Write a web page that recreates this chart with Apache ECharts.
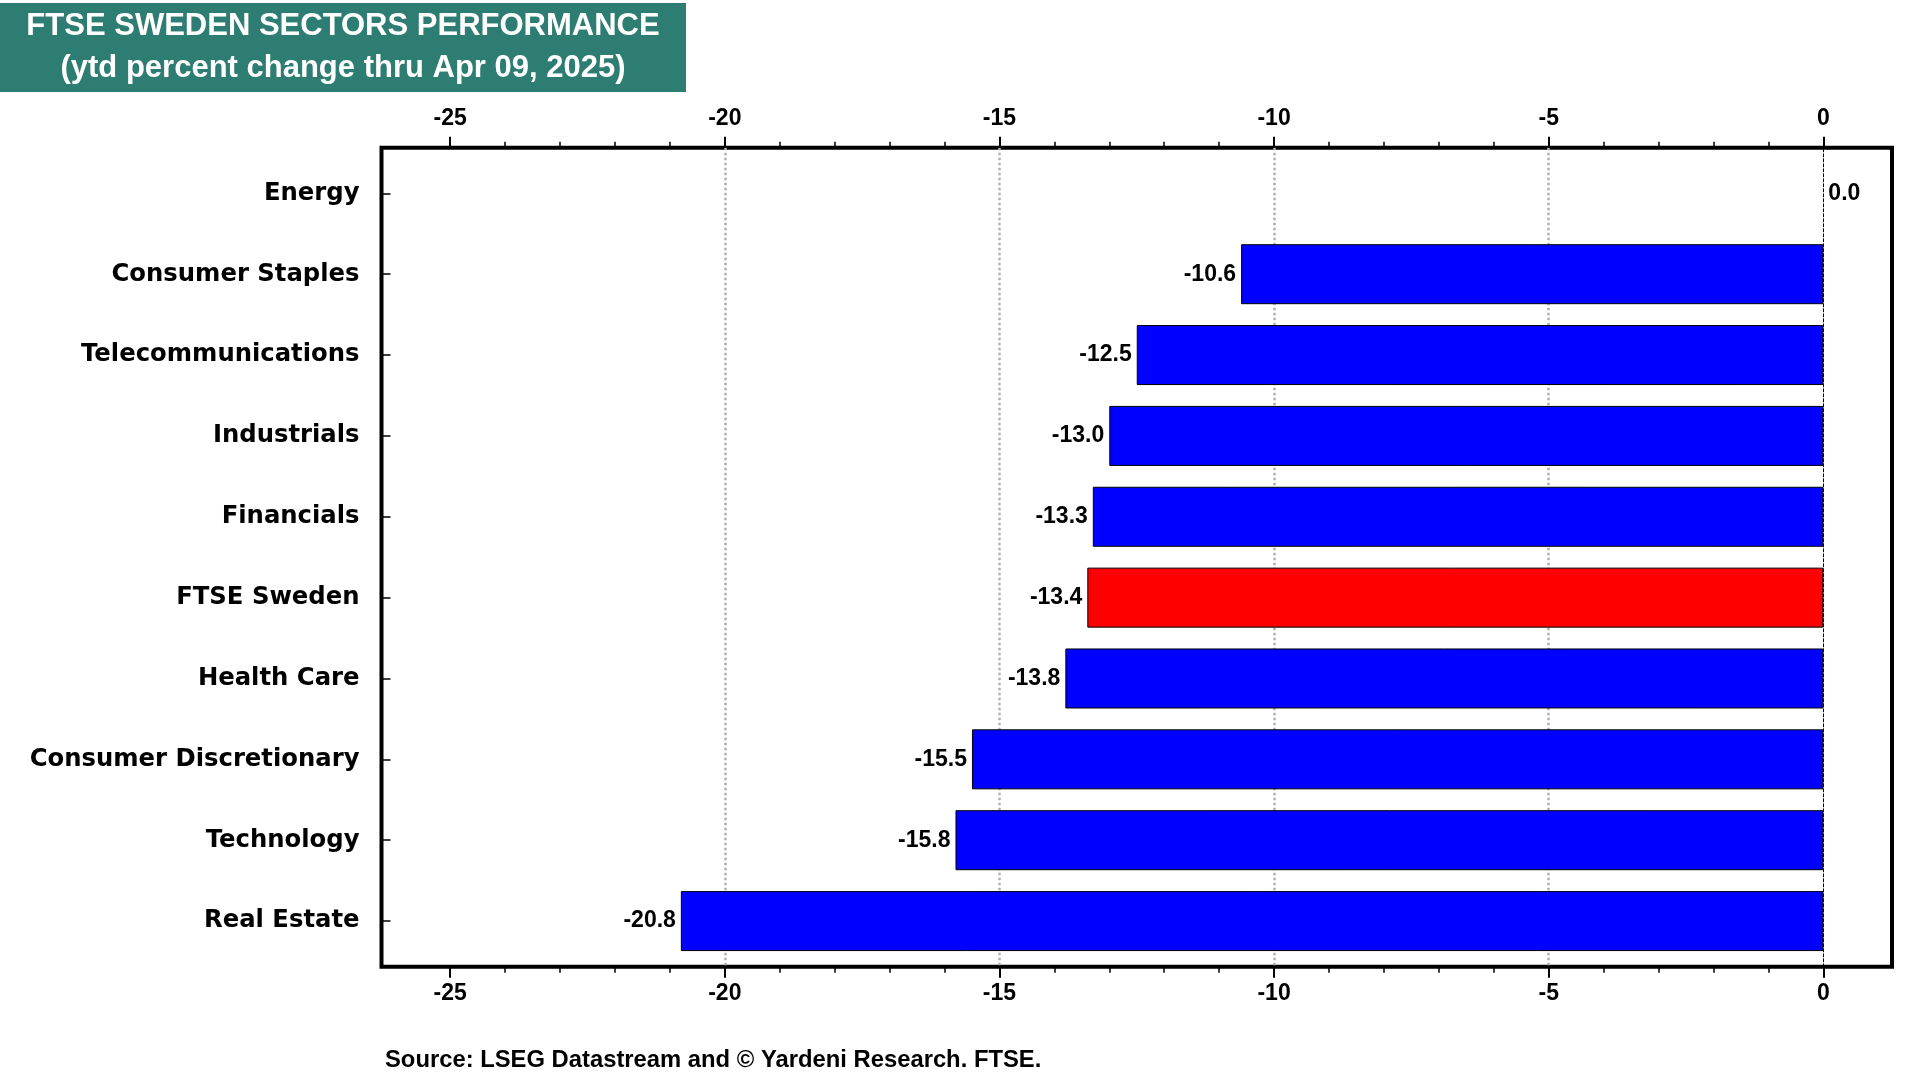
<!DOCTYPE html>
<html>
<head>
<meta charset="utf-8">
<script src="https://cdn.jsdelivr.net/npm/echarts@6/dist/echarts.min.js"></script>
<style>
  html, body { margin: 0; padding: 0; background: #ffffff; }
  #chart { width: 1920px; height: 1080px; }
</style>
</head>
<body>
<div id="chart"></div>
<script>
// ---- data ----
const categories = ['Energy', 'Consumer Staples', 'Telecommunications', 'Industrials', 'Financials',
  'FTSE Sweden', 'Health Care', 'Consumer Discretionary', 'Technology', 'Real Estate'];
const values = [0.0, -10.6, -12.5, -13.0, -13.3, -13.4, -13.8, -15.5, -15.8, -20.8];
const highlightName = 'FTSE Sweden';
const majorTicks = [-25, -20, -15, -10, -5, 0];
const minorTicks = [-24, -23, -22, -21, -19, -18, -17, -16, -14, -13, -12, -11, -9, -8, -7, -6, -4, -3, -2, -1];
const xMin = -26.25;
const xMax = 1.25;
const titleLine1 = 'FTSE SWEDEN SECTORS PERFORMANCE';
const titleLine2 = '(ytd percent change thru Apr 09, 2025)';
const sourceText = 'Source: LSEG Datastream and \u00A9 Yardeni Research. FTSE.';

// ---- styles ----
const numFont = '"Liberation Sans", Arial, sans-serif';
const catFont = '"DejaVu Sans", Verdana, sans-serif';
const BLUE = '#0000ff', RED = '#ff0000';

const chart = echarts.init(document.getElementById('chart'), null, { renderer: 'canvas' });

const plotLeft = 381.5, plotWidth = 1510.5;

function majorAxis(position, margin, split) {
  return {
    gridIndex: 0, type: 'value', min: xMin, max: xMax, position: position,
    axisLine: { show: false, onZero: false },
    axisTick: { show: true, customValues: majorTicks, length: 11, lineStyle: { color: '#000', width: 2 } },
    axisLabel: { show: true, customValues: majorTicks, margin: margin, color: '#000',
      fontFamily: numFont, fontWeight: 'bold', fontSize: 23 },
    splitLine: { show: split, showMinLine: false, showMaxLine: false,
      lineStyle: { color: '#b0b0b0', width: 2.5, type: [2.5, 2.5] } }
  };
}
function minorAxis(position) {
  return {
    gridIndex: 0, type: 'value', min: xMin, max: xMax, position: position,
    axisLine: { show: false, onZero: false },
    axisTick: { show: true, customValues: minorTicks, length: 6, lineStyle: { color: '#000', width: 1.5 } },
    axisLabel: { show: false },
    splitLine: { show: false }
  };
}

const seriesData = values.map((v, i) => ({
  value: v,
  itemStyle: {
    color: categories[i] === highlightName ? RED : BLUE,
    borderWidth: v === 0 ? 0 : 1
  },
  label: { position: v < 0 ? 'left' : 'right' }
}));

const option = {
  animation: false,
  backgroundColor: '#ffffff',
  grid: [
    { left: plotLeft, top: 147.8, width: plotWidth, height: 819, show: true,
      borderColor: '#000', borderWidth: 4, backgroundColor: 'transparent', outerBoundsMode: 'none' },
    { left: plotLeft, top: 152.9, width: plotWidth, height: 808.6, show: false, outerBoundsMode: 'none' }
  ],
  xAxis: [
    majorAxis('top', 18, true),
    minorAxis('top'),
    majorAxis('bottom', 15, false),
    minorAxis('bottom'),
    { gridIndex: 1, type: 'value', min: xMin, max: xMax, show: false,
      axisLine: { onZero: false }, splitLine: { show: false } }
  ],
  yAxis: [
    { gridIndex: 0, type: 'value', min: 0, max: 1, z: 3,
      axisLine: { show: true, onZero: true, lineStyle: { color: '#000', width: 1, type: [3, 2] } },
      axisTick: { show: false }, axisLabel: { show: false }, splitLine: { show: false } },
    { gridIndex: 1, type: 'category', data: categories, inverse: true,
      axisLine: { show: false, onZero: false },
      axisTick: { show: true, inside: true, alignWithLabel: true, length: 9,
        lineStyle: { color: '#000', width: 1.5 } },
      axisLabel: { margin: 22, color: '#000', fontFamily: catFont, fontWeight: 'bold', fontSize: 24.3 },
      splitLine: { show: false } }
  ],
  series: [{
    type: 'bar',
    xAxisIndex: 4,
    yAxisIndex: 1,
    data: seriesData,
    barWidth: 60,
    itemStyle: { borderColor: '#000', borderWidth: 1 },
    label: {
      show: true, distance: 5, color: '#000',
      fontFamily: numFont, fontWeight: 'bold', fontSize: 23,
      formatter: p => Number(p.value).toFixed(1)
    }
  }],
  graphic: [
    { type: 'rect', shape: { x: 0, y: 3, width: 686, height: 89 }, style: { fill: '#2e7d72' }, z: 10 },
    { type: 'text', x: 343, y: 26, z: 11,
      style: { text: titleLine1, fill: '#ffffff', font: 'bold 31px ' + numFont,
        textAlign: 'center', textVerticalAlign: 'middle' } },
    { type: 'text', x: 343, y: 68, z: 11,
      style: { text: titleLine2, fill: '#ffffff', font: 'bold 31px ' + numFont,
        textAlign: 'center', textVerticalAlign: 'middle' } },
    { type: 'text', x: 385, y: 1060, z: 11,
      style: { text: sourceText, fill: '#000000', font: 'bold 23.8px ' + numFont,
        textAlign: 'left', textVerticalAlign: 'middle' } }
  ]
};
chart.setOption(option);
</script>
</body>
</html>
